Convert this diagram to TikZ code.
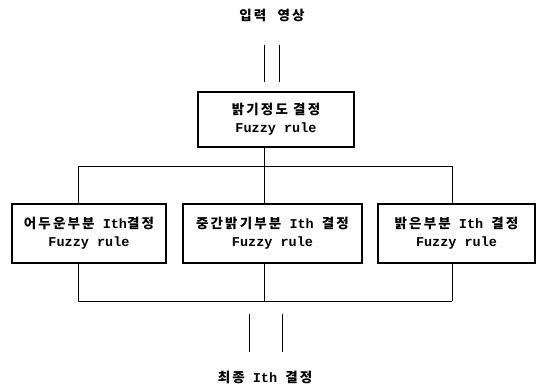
\documentclass[tikz,border=0pt]{standalone}
\usepackage{fontspec}
\setmainfont{Liberation Mono}
\newfontfamily\kr{Noto Sans CJK KR}[LetterSpace=16]
\newcommand{\K}[1]{{\kr #1}}
\tikzset{
  box/.style={draw, line width=1.1pt, align=center, inner sep=0pt,
    font=\fontsize{13.5}{18}\selectfont\bfseries},
  lbl/.style={inner sep=0pt, font=\fontsize{13.5}{18}\selectfont\bfseries},
  wire/.style={line width=0.8pt}
}
\begin{document}
\begin{tikzpicture}[x=1pt,y=-1pt]
\useasboundingbox (0,0) rectangle (545,388);
% labels
\node[lbl] (in) at (272,15) {\K{입력\hspace{6pt} 영상}};
\node[lbl] (out) at (265,377) {\K{최종} Ith \K{결정}};
% boxes
\node[box, minimum width=156pt, minimum height=55pt] (top) at (276,119.5)
  {\K{밝기정도 결정}\\Fuzzy rule};
\node[box, minimum width=154pt, minimum height=59pt] (left) at (89,233.5)
  {\K{어두운부분} Ith\K{결정}\\Fuzzy rule};
\node[box, minimum width=179pt, minimum height=59pt] (mid) at (272.5,233.5)
  {\K{중간밝기부분} Ith \K{결정}\\Fuzzy rule};
\node[box, minimum width=157pt, minimum height=59pt] (right) at (456.5,233.5)
  {\K{밝은부분} Ith \K{결정}\\Fuzzy rule};
% coordinates
\coordinate (ia1) at (264,45); \coordinate (ib1) at (264,82);
\coordinate (ia2) at (279,45); \coordinate (ib2) at (279,82);
\coordinate (busL) at (78,166); \coordinate (busM) at (264,166); \coordinate (busR) at (452,166);
\coordinate (botL) at (78,301); \coordinate (botM) at (264,301); \coordinate (botR) at (452,301);
\coordinate (oa1) at (249,314); \coordinate (ob1) at (249,352);
\coordinate (oa2) at (282,314); \coordinate (ob2) at (282,352);
% wires
\draw[wire] (ia1) -- (ib1);
\draw[wire] (ia2) -- (ib2);
\draw[wire] (top.south -| busM) -- (busM);
\draw[wire] (busL) -- (busR);
\draw[wire] (busL) -- (busL |- left.north);
\draw[wire] (busM) -- (busM |- mid.north);
\draw[wire] (busR) -- (busR |- right.north);
\draw[wire] (botL |- left.south) -- (botL);
\draw[wire] (botM |- mid.south) -- (botM);
\draw[wire] (botR |- right.south) -- (botR);
\draw[wire] (botL) -- (botR);
\draw[wire] (oa1) -- (ob1);
\draw[wire] (oa2) -- (ob2);
\end{tikzpicture}
\end{document}
